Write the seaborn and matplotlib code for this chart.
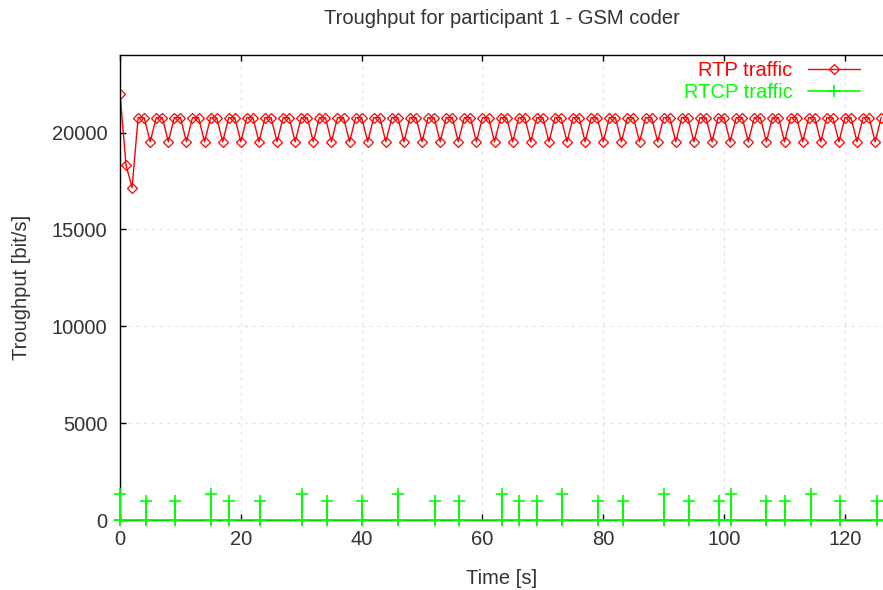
import matplotlib
matplotlib.use("Agg")
import matplotlib.pyplot as plt
import seaborn as sns
import pandas as pd

# RTP throughput, one sample per second
rtp_time = [
    0, 1, 2, 3, 4, 5, 6, 7, 8, 9, 10, 11, 12, 13, 14, 15, 16, 17, 18, 19,
    20, 21, 22, 23, 24, 25, 26, 27, 28, 29, 30, 31, 32, 33, 34, 35, 36, 37, 38, 39,
    40, 41, 42, 43, 44, 45, 46, 47, 48, 49, 50, 51, 52, 53, 54, 55, 56, 57, 58, 59,
    60, 61, 62, 63, 64, 65, 66, 67, 68, 69, 70, 71, 72, 73, 74, 75, 76, 77, 78, 79,
    80, 81, 82, 83, 84, 85, 86, 87, 88, 89, 90, 91, 92, 93, 94, 95, 96, 97, 98, 99,
    100, 101, 102, 103, 104, 105, 106, 107, 108, 109, 110, 111, 112, 113, 114, 115,
    116, 117, 118, 119, 120, 121, 122, 123, 124, 125, 126,
]
rtp_rate = [
    22000, 18310, 17160,
    20770, 20770, 19520, 20770, 20770, 19520, 20770, 20770, 19520,
    20770, 20770, 19520, 20770, 20770, 19520, 20770, 20770, 19520,
    20770, 20770, 19520, 20770, 20770, 19520, 20770, 20770, 19520,
    20770, 20770, 19520, 20770, 20770, 19520, 20770, 20770, 19520,
    20770, 20770, 19520, 20770, 20770, 19520, 20770, 20770, 19520,
    20770, 20770, 19520, 20770, 20770, 19520, 20770, 20770, 19520,
    20770, 20770, 19520, 20770, 20770, 19520, 20770, 20770, 19520,
    20770, 20770, 19520, 20770, 20770, 19520, 20770, 20770, 19520,
    20770, 20770, 19520, 20770, 20770, 19520, 20770, 20770, 19520,
    20770, 20770, 19520, 20770, 20770, 19520, 20770, 20770, 19520,
    20770, 20770, 19520, 20770, 20770, 19520, 20770, 20770, 19520,
    20770, 20770, 19520, 20770, 20770, 19520, 20770, 20770, 19520,
    20770, 20770, 19520, 20770, 20770, 19520, 20770, 20770, 19520,
    20770, 20770, 19520, 20770, 20770, 19520,
    20770,
]

# RTCP reports (impulses)
rtcp_time = [0, 4.3, 9.1, 15.0, 18.0, 23.2, 30.1, 34.3, 40.1, 46.0, 52.1, 56.1, 63.2,
             66.1, 69.1, 73.2, 79.1, 83.2, 90.1, 94.2, 99.1, 101.2, 107.0, 110.0,
             114.3, 119.1, 125.3]
rtcp_rate = [1340, 1000, 1000, 1340, 1000, 1000, 1340, 1000, 1000, 1340, 1000, 1000, 1340,
             1000, 1000, 1340, 1000, 1000, 1340, 1000, 1000, 1340, 1000, 1000,
             1340, 1000, 1000]

x_ticks = [0, 20, 40, 60, 80, 100, 120]
y_ticks = [0, 5000, 10000, 15000, 20000]

rtp = pd.DataFrame({"time": rtp_time, "rate": rtp_rate})

# impulses: go up and back down to zero at each report time
px, py = [], []
for t, h in zip(rtcp_time, rtcp_rate):
    px += [t, t, t]
    py += [0, h, 0]
px.append(rtp_time[-1] + 1)
py.append(0)
rtcp = pd.DataFrame({"time": px, "rate": py})

sns.set_style("white")
plt.rcParams["font.family"] = ["Liberation Sans", "DejaVu Sans"]
FS = 14.5
TXT = "#333333"

fig = plt.figure(figsize=(8.83, 5.90), dpi=100)
ax = fig.add_axes([120 / 883, 70 / 590, 763 / 883, 465 / 590])

sns.lineplot(data=rtp, x="time", y="rate", ax=ax, color="#ff0000", lw=1,
             marker="D", markersize=4.6, markerfacecolor="none",
             markeredgecolor="#ff0000", markeredgewidth=0.9,
             estimator=None, sort=False, label="RTP traffic")
sns.lineplot(data=rtcp, x="time", y="rate", ax=ax, color="#00ff00", lw=1.2,
             marker="+", markersize=8, markeredgewidth=1.2,
             markeredgecolor="#00ff00", zorder=3, clip_on=False,
             estimator=None, sort=False, label="RTCP traffic")

ax.set_xlim(0, 126.3)
ax.set_ylim(0, 24000)
ax.set_xticks(x_ticks)
ax.set_yticks(y_ticks)
ax.grid(True, ls=(0, (3, 4)), color="#e2e2e2", lw=0.8)
ax.tick_params(axis="x", pad=7)
ax.tick_params(axis="y", pad=9)
ax.tick_params(direction="in", length=4, width=1, colors="black",
               labelcolor=TXT, labelsize=FS, top=True, left=True,
               bottom=True)
for side in ["left", "top", "bottom"]:
    ax.spines[side].set_color("black")
    ax.spines[side].set_linewidth(1)
ax.spines["right"].set_visible(False)

ax.set_xlabel("Time [s]", fontsize=FS, color=TXT)
ax.set_ylabel("Troughput [bit/s]", fontsize=FS, color=TXT)
ax.xaxis.set_label_coords(0.5, -58 / 465)
ax.xaxis.label.set_va("center")
ax.yaxis.set_label_coords(-98 / 763, 0.5)
ax.yaxis.label.set_va("center")
fig.text(502 / 883, 1 - 18 / 590, "Troughput for participant 1 - GSM coder",
         ha="center", va="center", fontsize=FS, color=TXT)

ax.legend(loc="upper right", bbox_to_anchor=(0.97, 0.987), frameon=False,
          markerfirst=False, labelcolor="linecolor", fontsize=FS,
          handlelength=2.6, handletextpad=0.75, labelspacing=0.15,
          borderpad=0, borderaxespad=0, numpoints=1)

fig.savefig("out.png", dpi=100)
